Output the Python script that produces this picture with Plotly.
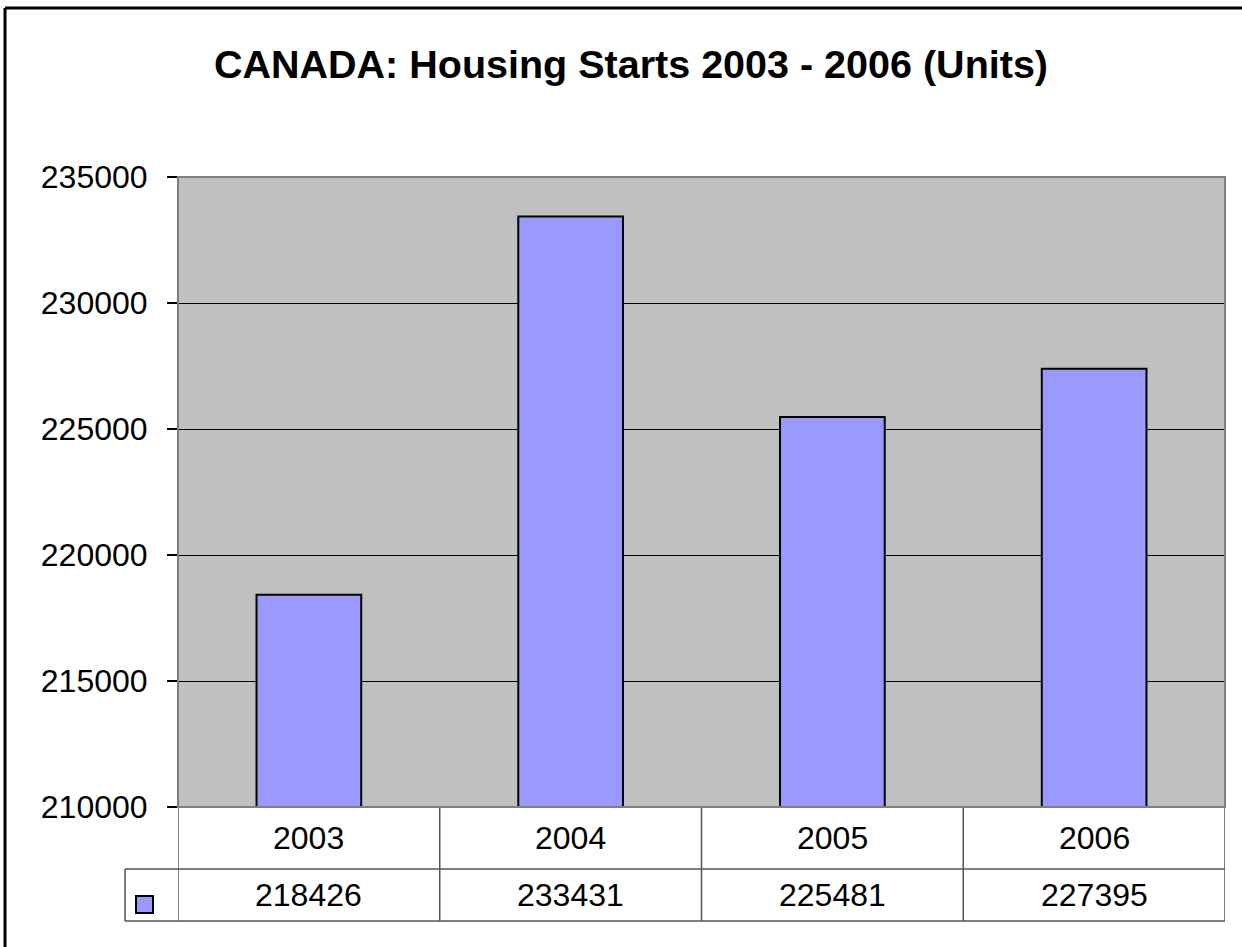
import plotly.graph_objects as go

years = ["2003", "2004", "2005", "2006"]
starts = [218426, 233431, 225481, 227395]
y_ticks = [210000, 215000, 220000, 225000, 230000, 235000]
title_text = "CANADA: Housing Starts 2003 - 2006 (Units)"

W, H = 1242, 947
L, R, T, B = 178, 17, 177, 140
pw, ph = W - L - R, H - T - B

def px_x(x):
    return (x - L) / pw

def px_y(y):
    return (H - B - y) / ph

FONT = "Liberation Sans, Arial, sans-serif"
TABLE_LINE = "#555555"

fig = go.Figure()
fig.add_trace(go.Bar(
    x=years, y=starts,
    marker=dict(color="#9999FF", line=dict(color="black", width=2)),
    showlegend=False, hoverinfo="x+y",
))

shapes = []
n = len(years)
for i in range(n + 1):
    shapes.append(dict(type="line", xref="x", yref="paper",
                       x0=i - 0.5, x1=i - 0.5, y0=0, y1=px_y(921),
                       line=dict(color=TABLE_LINE, width=1.5)))
for yy in (869, 921):
    shapes.append(dict(type="line", xref="paper", yref="paper",
                       x0=px_x(125), x1=1, y0=px_y(yy), y1=px_y(yy),
                       line=dict(color=TABLE_LINE, width=1.5)))
shapes.append(dict(type="line", xref="paper", yref="paper",
                   x0=px_x(125), x1=px_x(125), y0=px_y(869), y1=px_y(921),
                   line=dict(color=TABLE_LINE, width=1.5)))
# bottom axis line / table top
shapes.append(dict(type="line", xref="paper", yref="paper",
                   x0=0, x1=1, y0=0, y1=0,
                   line=dict(color=TABLE_LINE, width=1.5), layer="above"))
# legend key square
shapes.append(dict(type="rect", xref="paper", yref="paper",
                   x0=px_x(136), x1=px_x(153), y0=px_y(896), y1=px_y(913),
                   fillcolor="#9999FF", line=dict(color="black", width=2)))
# outer chart border (top and left visible)
shapes.append(dict(type="line", xref="paper", yref="paper",
                   x0=px_x(5), x1=px_x(1260), y0=px_y(8), y1=px_y(8),
                   line=dict(color="black", width=3)))
shapes.append(dict(type="line", xref="paper", yref="paper",
                   x0=px_x(5), x1=px_x(5), y0=px_y(8), y1=px_y(960),
                   line=dict(color="black", width=3)))
# plot area border
shapes.append(dict(type="rect", xref="paper", yref="paper",
                   x0=0, x1=1, y0=0, y1=1,
                   line=dict(color="#808080", width=2), layer="above"))

annotations = []
for i, (yr, v) in enumerate(zip(years, starts)):
    annotations.append(dict(x=i, xref="x", y=px_y(838), yref="paper",
                            text=yr, showarrow=False, yanchor="middle",
                            font=dict(size=32, color="black", family=FONT)))
    annotations.append(dict(x=i, xref="x", y=px_y(895), yref="paper",
                            text=str(v), showarrow=False, yanchor="middle",
                            font=dict(size=32, color="black", family=FONT)))

fig.update_layout(
    width=W, height=H,
    margin=dict(l=L, r=R, t=T, b=B, pad=0),
    paper_bgcolor="white", plot_bgcolor="#C0C0C0",
    title=dict(text="<b>" + title_text + "</b>", x=631 / W, xanchor="center",
               y=1 - 64 / H, yanchor="middle", yref="container",
               font=dict(size=39.5, color="black", family=FONT)),
    font=dict(family=FONT, color="black"),
    bargap=0.6,
    xaxis=dict(type="category", showticklabels=False, showgrid=False,
               zeroline=False, ticks="", showline=False,
               range=[-0.5, n - 0.5]),
    yaxis=dict(range=[y_ticks[0], y_ticks[-1]], tickvals=y_ticks,
               tickformat="d", showgrid=True, gridcolor="black", gridwidth=1,
               zeroline=False, ticks="outside", ticklen=10, tickcolor="black",
               tickwidth=1.5, showline=False, ticklabelstandoff=13,
               tickfont=dict(size=32, color="black", family=FONT)),
    shapes=shapes, annotations=annotations,
)

fig.write_html("out.html", config={"displayModeBar": False},
               post_script="document.body.style.margin='0';document.body.style.padding='0';")
